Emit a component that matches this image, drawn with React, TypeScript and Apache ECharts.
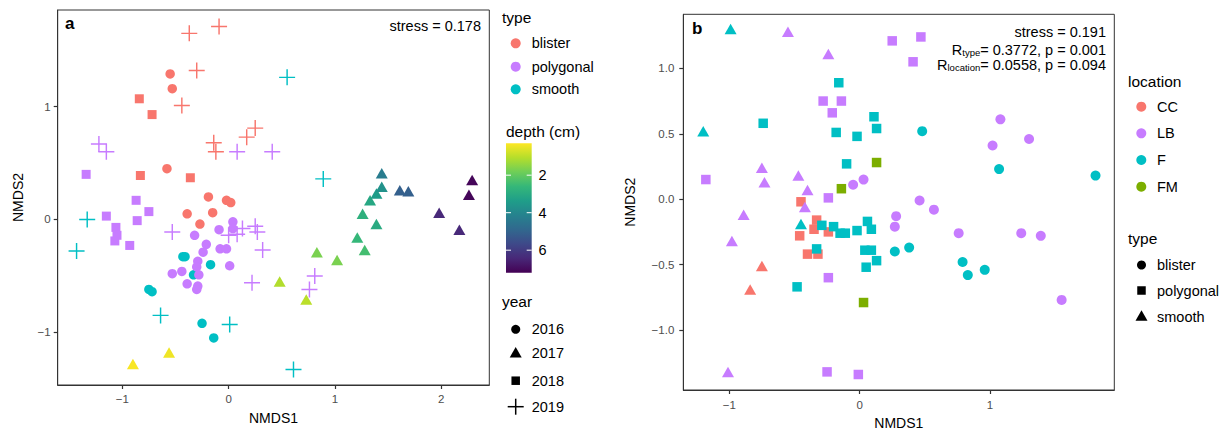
import React, { useEffect, useRef } from "react";
import * as echarts from "echarts";

const FONT = "'Liberation Sans', Arial, Helvetica, sans-serif";
const RED = "#F8766D";
const PURPLE = "#C77CFF";
const CYAN = "#00BFC4";
const GREEN = "#7CAE00";

// ---------- Panel a data: [NMDS1, NMDS2] ----------
const aBlister2016 = [[-0.55, 1.29], [-0.53, 1.16], [-0.58, 0.45], [-0.19, 0.2], [-0.02, 0.17], [0.02, 0.15], [-0.15, 0.06], [-0.39, 0.05], [-0.27, -0.04]];
const aBlister2018 = [[-0.84, 1.07], [-0.72, 0.93], [-0.83, 0.39], [-0.36, 0.37]];
const aBlister2019 = [[-0.37, 1.65], [-0.09, 1.71], [-0.3, 1.32], [-0.44, 1.01], [-0.14, 0.68], [-0.12, 0.6], [0.17, 0.73], [0.25, 0.81]];
const aPolygonal2016 = [[0.04, -0.02], [0.04, -0.08], [-0.09, -0.09], [-0.32, -0.14], [-0.21, -0.22], [-0.24, -0.29], [-0.08, -0.26], [-0.02, -0.26], [-0.29, -0.37], [-0.3, -0.42], [0.01, -0.41], [-0.53, -0.48], [-0.44, -0.46], [-0.28, -0.49], [-0.39, -0.57], [-0.29, -0.59], [-0.3, -0.62]];
const aPolygonal2018 = [[-1.34, 0.4], [-0.87, 0.17], [-0.75, 0.07], [-0.86, -0.01], [-1.15, 0.03], [-1.06, -0.07], [-1.05, -0.14], [-1.07, -0.19], [-0.93, -0.23]];
const aPolygonal2019 = [[-1.22, 0.67], [-1.15, 0.6], [0.08, 0.6], [0.41, 0.6], [-0.53, -0.11], [0.13, -0.08], [0.25, -0.06], [0.27, -0.11], [0.0, -0.14], [0.08, -0.13], [0.32, -0.27], [0.22, -0.56], [0.76, -0.62], [0.81, -0.5]];
const aSmooth2016 = [[-0.43, -0.33], [-0.41, -0.33], [-0.17, -0.4], [-0.33, -0.49], [-0.75, -0.62], [-0.72, -0.64], [-0.25, -0.92], [-0.14, -1.05]];
const aSmooth2019 = [[0.55, 1.26], [0.89, 0.36], [-1.33, 0.0], [-1.43, -0.28], [-0.64, -0.85], [0.01, -0.93], [0.61, -1.33]];
// 2017 samples: [NMDS1, NMDS2, depth (cm)]
const a2017 = [[-0.9, -1.28, 0.35], [-0.56, -1.18, 0.45], [0.48, -0.55, 1.1], [0.73, -0.71, 1.0], [0.83, -0.29, 1.7], [1.02, -0.36, 1.7], [1.21, -0.16, 2.6], [1.28, -0.27, 2.4], [1.26, 0.05, 2.8], [1.39, -0.04, 3.0], [1.33, 0.17, 3.1], [1.39, 0.23, 3.4], [1.44, 0.29, 3.7], [1.44, 0.41, 4.3], [1.61, 0.26, 5.1], [1.69, 0.25, 5.1], [1.98, 0.06, 6.4], [2.17, -0.09, 6.4], [2.29, 0.35, 7.1], [2.26, 0.22, 7.1]];

// ---------- Panel b data ----------
const bCCPolygonal = [[-0.45, -0.02], [-0.33, -0.16], [-0.35, -0.23], [-0.46, -0.28], [-0.24, -0.25], [-0.4, -0.42], [-0.32, -0.42]];
const bCCSmooth = [[-0.75, -0.51], [-0.84, -0.69]];
const bLBBlister = [[-0.05, 0.11], [0.03, 0.15], [1.08, 0.61], [1.02, 0.41], [1.3, 0.46], [0.46, -0.01], [0.57, -0.08], [0.28, -0.13], [0.27, -0.21], [0.76, -0.26], [1.24, -0.26], [1.39, -0.28], [1.55, -0.77]];
const bLBPolygonal = [[0.25, 1.21], [0.47, 1.24], [0.41, 1.05], [-0.28, 0.75], [-0.14, 0.75], [-0.21, 0.66], [-1.18, 0.15], [-0.24, 0.01], [-0.24, -0.6], [-0.25, -1.32], [-0.01, -1.34]];
const bLBSmooth = [[-0.55, 1.28], [-0.24, 1.11], [-0.75, 0.24], [-0.73, 0.13], [-0.47, 0.18], [-0.4, 0.07], [-0.42, -0.06], [-0.89, -0.12], [-0.98, -0.32], [-1.01, -1.32]];
const bFBlister = [[0.48, 0.52], [1.07, 0.23], [1.81, 0.18], [0.27, -0.4], [0.38, -0.37], [0.79, -0.48], [0.83, -0.58], [0.96, -0.54]];
const bFPolygonal = [[-0.16, 0.89], [-0.74, 0.58], [-0.18, 0.51], [-0.02, 0.48], [-0.1, 0.27], [0.11, 0.63], [0.13, 0.54], [-0.29, -0.2], [-0.2, -0.21], [-0.15, -0.26], [-0.11, -0.26], [-0.02, -0.24], [0.06, -0.17], [0.09, -0.23], [-0.33, -0.38], [0.04, -0.39], [0.09, -0.39], [0.13, -0.47], [0.05, -0.52], [-0.48, -0.67]];
const bFSmooth = [[-0.99, 1.3], [-1.2, 0.52], [-0.45, -0.19]];
const bFMPolygonal = [[-0.14, 0.08], [0.13, 0.28], [0.03, -0.79]];

// ---------- ticks / legends ----------
const aXTicks = [-1, 0, 1, 2];
const aYTicks = [-1, 0, 1];
const bXTicks = [-1, 0, 1];
const bYTicks = [-1, -0.5, 0, 0.5, 1];
const depthTicks = [2, 4, 6];
const DEPTH_MIN = 0.3;
const DEPTH_MAX = 7.2;
const typeNames = ["blister", "polygonal", "smooth"];
const typeColors = [RED, PURPLE, CYAN];
const yearNames = ["2016", "2017", "2018", "2019"];
const locationNames = ["CC", "LB", "F", "FM"];
const locationColors = [RED, PURPLE, CYAN, GREEN];
// viridis, reversed (shallow = yellow)
const VIRIDIS_REV = ["#fde725", "#b5de2b", "#6ece58", "#35b779", "#1f9e89", "#26828e", "#31688e", "#3e4989", "#482878", "#440154"];

const PLUS = "path://M9.1,0h1.8v9.1h9.1v1.8h-9.1v9.1h-1.8v-9.1h-9.1v-1.8h9.1z";

const minus = (s: string) => s.replace("-", "\u2212");

function scatter(name: string, data: number[][], gi: number, symbol: string, size: any, color?: string) {
  const s: any = {
    type: "scatter",
    name,
    xAxisIndex: gi,
    yAxisIndex: gi,
    data,
    symbol,
    symbolSize: size,
    itemStyle: { opacity: 1 },
    emphasis: { disabled: true },
    silent: true,
  };
  if (color) s.itemStyle.color = color;
  return s;
}

function axisBase(gi: number, min: number, max: number, ticks: number[], fmt: (v: number) => string, margin: number, name: string, nameGap: number) {
  return {
    type: "value",
    gridIndex: gi,
    min,
    max,
    axisLine: { show: true, onZero: false, lineStyle: { color: "#333", width: 1 } },
    axisTick: { show: true, length: 4, customValues: ticks, lineStyle: { color: "#333", width: 1.2 } },
    axisLabel: { customValues: ticks, formatter: fmt, color: "#4d4d4d", fontSize: 11.5, fontFamily: FONT, margin },
    splitLine: { show: false },
    name,
    nameLocation: "middle",
    nameGap,
    nameTextStyle: { color: "#000", fontSize: 14, fontFamily: FONT },
  };
}

function text(x: number, y: number, str: string, extra: any = {}) {
  return {
    type: "text",
    x,
    y,
    silent: true,
    style: { text: str, fill: "#000", fontSize: 14.5, fontFamily: FONT, align: "left", verticalAlign: "middle", ...extra },
  };
}

function marker(kind: string, cx: number, cy: number, color: string, s: number) {
  if (kind === "circle") return { type: "circle", silent: true, shape: { cx, cy, r: s / 2 }, style: { fill: color } };
  if (kind === "square") return { type: "rect", silent: true, shape: { x: cx - s / 2, y: cy - s / 2, width: s, height: s }, style: { fill: color } };
  if (kind === "triangle") {
    const h = s * 0.88;
    return { type: "polygon", silent: true, shape: { points: [[cx, cy - h / 2 - 1], [cx + s / 2, cy + h / 2 - 1], [cx - s / 2, cy + h / 2 - 1]] }, style: { fill: color } };
  }
  // plus
  return {
    type: "group",
    silent: true,
    children: [
      { type: "rect", shape: { x: cx - s / 2, y: cy - 0.75, width: s, height: 1.5 }, style: { fill: color } },
      { type: "rect", shape: { x: cx - 0.75, y: cy - s / 2, width: 1.5, height: s }, style: { fill: color } },
    ],
  };
}

function buildOption() {
  const series: any[] = [];
  // panel a
  series.push(scatter("a-smooth-2016", aSmooth2016, 0, "circle", 9.5, CYAN));
  series.push(scatter("a-polygonal-2016", aPolygonal2016, 0, "circle", 9.5, PURPLE));
  series.push(scatter("a-blister-2016", aBlister2016, 0, "circle", 9.5, RED));
  series.push(scatter("a-polygonal-2018", aPolygonal2018, 0, "rect", 9, PURPLE));
  series.push(scatter("a-blister-2018", aBlister2018, 0, "rect", 9, RED));
  series.push(scatter("a-polygonal-2019", aPolygonal2019, 0, PLUS, 16, PURPLE));
  series.push(scatter("a-blister-2019", aBlister2019, 0, PLUS, 16, RED));
  series.push(scatter("a-smooth-2019", aSmooth2019, 0, PLUS, 16, CYAN));
  const triIdx = series.length;
  series.push(scatter("a-2017", a2017, 0, "triangle", [12, 10.5]));
  // panel b
  series.push(scatter("b-CC-polygonal", bCCPolygonal, 1, "rect", 9.5, RED));
  series.push(scatter("b-CC-smooth", bCCSmooth, 1, "triangle", [12, 10.5], RED));
  series.push(scatter("b-LB-blister", bLBBlister, 1, "circle", 10, PURPLE));
  series.push(scatter("b-LB-polygonal", bLBPolygonal, 1, "rect", 9.5, PURPLE));
  series.push(scatter("b-LB-smooth", bLBSmooth, 1, "triangle", [12, 10.5], PURPLE));
  series.push(scatter("b-F-blister", bFBlister, 1, "circle", 10, CYAN));
  series.push(scatter("b-F-polygonal", bFPolygonal, 1, "rect", 9.5, CYAN));
  series.push(scatter("b-F-smooth", bFSmooth, 1, "triangle", [12, 10.5], CYAN));
  series.push(scatter("b-FM-polygonal", bFMPolygonal, 1, "rect", 9.5, GREEN));

  const graphic: any[] = [];
  // panel labels and stats
  graphic.push(text(65, 23, "a", { fontWeight: "bold", fontSize: 17 }));
  graphic.push(text(481, 25.5, "stress = 0.178", { align: "right" }));
  graphic.push(text(692, 28, "b", { fontWeight: "bold", fontSize: 17 }));
  graphic.push(text(1106, 31.5, "stress = 0.191", { align: "right" }));
  const rich = {
    m: { fontSize: 14.5, fontFamily: FONT, fill: "#000", lineHeight: 16, verticalAlign: "middle" },
    s: { fontSize: 9.5, fontFamily: FONT, fill: "#000", lineHeight: 10, verticalAlign: "bottom" },
  };
  graphic.push(text(1106, 49.5, "{m|R}{s|type}{m|= 0.3772, p = 0.001}", { align: "right", rich }));
  graphic.push(text(1106, 64.5, "{m|R}{s|location}{m|= 0.0558, p = 0.094}", { align: "right", rich }));

  // panel a legends
  graphic.push(text(502, 17, "type", { fontSize: 15.5 }));
  const typeY = [43.3, 66.7, 89.3];
  typeNames.forEach((n, i) => {
    graphic.push(marker("circle", 515.7, typeY[i], typeColors[i], 10));
    graphic.push(text(531.7, typeY[i], n));
  });
  graphic.push(text(506, 131, "depth (cm)", { fontSize: 15.5 }));
  const cbX = 506, cbY = 143.3, cbW = 25.7, cbH = 129.4;
  graphic.push({
    type: "rect",
    silent: true,
    shape: { x: cbX, y: cbY, width: cbW, height: cbH },
    style: {
      fill: {
        type: "linear", x: 0, y: 0, x2: 0, y2: 1,
        colorStops: VIRIDIS_REV.map((c, i) => ({ offset: i / (VIRIDIS_REV.length - 1), color: c })),
      },
    },
  });
  depthTicks.forEach((d) => {
    const y = cbY + ((d - DEPTH_MIN) / (DEPTH_MAX - DEPTH_MIN)) * cbH;
    graphic.push({ type: "line", silent: true, shape: { x1: cbX, y1: y, x2: cbX + 5, y2: y }, style: { stroke: "#fff", lineWidth: 1 } });
    graphic.push({ type: "line", silent: true, shape: { x1: cbX + cbW - 5, y1: y, x2: cbX + cbW, y2: y }, style: { stroke: "#fff", lineWidth: 1 } });
    graphic.push(text(538.5, y, String(d)));
  });
  graphic.push(text(502, 301, "year", { fontSize: 15.5 }));
  const yearY = [329.3, 353.3, 380.7, 406.7];
  const yearKinds = ["circle", "triangle", "square", "plus"];
  const yearSizes = [9, 12, 8.5, 16];
  yearNames.forEach((n, i) => {
    graphic.push(marker(yearKinds[i], 515.7, yearY[i], "#000", yearSizes[i]));
    graphic.push(text(531.7, yearY[i], n));
  });

  // panel b legends
  graphic.push(text(1128, 81, "location", { fontSize: 15.5 }));
  const locY = [106.7, 133.3, 160, 186.7];
  locationNames.forEach((n, i) => {
    graphic.push(marker("circle", 1141.3, locY[i], locationColors[i], 10));
    graphic.push(text(1157, locY[i], n));
  });
  graphic.push(text(1128, 238, "type", { fontSize: 15.5 }));
  const tY = [265, 290.5, 316.5];
  const tKinds = ["circle", "square", "triangle"];
  const tSizes = [9, 8.5, 12];
  typeNames.forEach((n, i) => {
    graphic.push(marker(tKinds[i], 1141.5, tY[i], "#000", tSizes[i]));
    graphic.push(text(1157, tY[i], n));
  });

  const fmtInt = (v: number) => minus(String(v));
  const fmt1 = (v: number) => minus(v.toFixed(1));

  return {
    animation: false,
    backgroundColor: "#fff",
    textStyle: { fontFamily: FONT },
    grid: [
      { left: 57.7, top: 10, width: 431.6, height: 375, show: true, borderColor: "#333", borderWidth: 1, backgroundColor: "#fff", containLabel: false, outerBoundsMode: "none" },
      { left: 683.3, top: 14.3, width: 431, height: 375.7, show: true, borderColor: "#333", borderWidth: 1, backgroundColor: "#fff", containLabel: false, outerBoundsMode: "none" },
    ],
    xAxis: [
      axisBase(0, -1.6075, 2.4515, aXTicks, fmtInt, 8, "NMDS1", 26),
      axisBase(1, -1.353, 1.954, bXTicks, fmtInt, 9, "NMDS1", 25),
    ],
    yAxis: [
      axisBase(0, -1.467, 1.857, aYTicks, fmtInt, 7, "NMDS2", 33),
      axisBase(1, -1.4585, 1.413, bYTicks, fmt1, 9, "NMDS2", 46),
    ],
    visualMap: [
      {
        type: "continuous",
        show: false,
        seriesIndex: triIdx,
        dimension: 2,
        min: DEPTH_MIN,
        max: DEPTH_MAX,
        inRange: { color: VIRIDIS_REV },
      },
    ],
    series,
    graphic,
  };
}

export default function App() {
  const ref = useRef<HTMLDivElement>(null);
  useEffect(() => {
    const chart = echarts.init(ref.current!, null, { renderer: "svg" });
    chart.setOption(buildOption() as any);
    return () => chart.dispose();
  }, []);
  return <div ref={ref} style={{ position: "absolute", left: 0, top: 0, width: 1229, height: 432 }} />;
}
